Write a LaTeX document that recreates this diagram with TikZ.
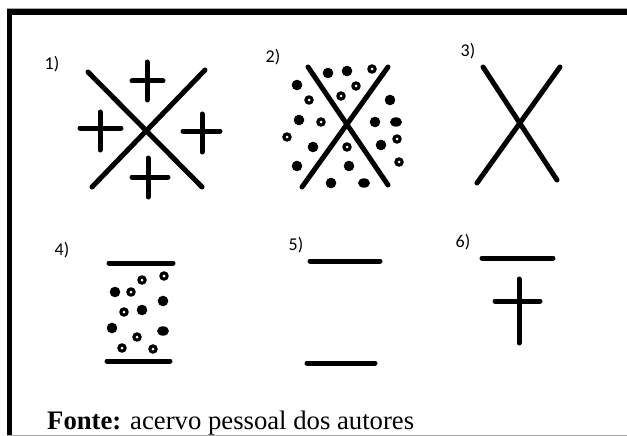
\documentclass[tikz,border=0pt]{standalone}
\usepackage{fontspec}
\setmainfont{Liberation Serif}
\newfontfamily\labfont{Carlito}
\begin{document}
\begin{tikzpicture}[x=1pt,y=-1pt,
  stroke/.style={line width=5pt,line cap=round},
  lab/.style={font=\labfont\fontsize{18}{20}\selectfont,inner sep=0pt,text=black},
  fulldot/.pic={\fill (0,0) circle (5.3pt);},
  ovaldot/.pic={\fill (0,0) ellipse (6pt and 4.7pt);},
  ringdot/.pic={\fill (0,0) circle (4.8pt); \fill[white] (0,0) circle (1.5pt);}]
\useasboundingbox (0,0) rectangle (627,436);
% frame
\draw[gray!70,line width=1pt] (7,8.5) -- (627,8.5);
\fill (7,9) rectangle (627,15);
\fill (7,9) rectangle (12,436);
\draw[gray!70,line width=1.2pt] (7,435.4) -- (627,435.4);
% labels
\node[lab] (l1) at (52,64) {1)};
\node[lab] (l2) at (273,57) {2)};
\node[lab] (l3) at (468,51) {3)};
\node[lab] (l4) at (62,250) {4)};
\node[lab] (l5) at (296,245) {5)};
\node[lab] (l6) at (463,242) {6)};
% panel 1
\draw[stroke] (88,72) -- (202,187);
\draw[stroke] (205,70) -- (92,187);
\draw[stroke] (132,81) -- (163,81) (147,62) -- (147,100);
\draw[stroke] (80,128) -- (121,128) (100,112) -- (100,150);
\draw[stroke] (183,131) -- (220,131) (202,114) -- (202,152);
\draw[stroke] (132,177) -- (168,177) (148,158) -- (148,197);
% panel 2
\draw[stroke] (308,67) -- (388,185);
\draw[stroke] (388,67) -- (302,187);
\pic at (328,73) {fulldot};
\pic at (347,71) {fulldot};
\pic at (372,69) {ringdot};
\pic at (297,85) {fulldot};
\pic at (356,86) {ringdot};
\pic at (309,100) {ringdot};
\pic at (341,96) {ringdot};
\pic at (390,100) {fulldot};
\pic at (299,120) {fulldot};
\pic at (321,122) {ringdot};
\pic at (375,122) {fulldot};
\pic at (396,122) {ovaldot};
\pic at (287,137) {ringdot};
\pic at (313,147) {fulldot};
\pic at (347,147) {ringdot};
\pic at (381,145) {fulldot};
\pic at (397,139) {ringdot};
\pic at (297,166) {fulldot};
\pic at (349,166) {fulldot};
\pic at (399,162) {ringdot};
\pic at (331,183) {fulldot};
\pic at (364,183) {ovaldot};
% panel 3
\draw[stroke] (483,67) -- (557,180);
\draw[stroke] (560,67) -- (477,183);
% panel 4
\draw[stroke] (109,263) -- (173,263);
\draw[stroke] (107,361) -- (170,361);
\pic at (142,280) {ringdot};
\pic at (164,276) {ringdot};
\pic at (115,292) {fulldot};
\pic at (131,292) {ringdot};
\pic at (163,301) {fulldot};
\pic at (124,312) {ringdot};
\pic at (142,310) {fulldot};
\pic at (112,328) {fulldot};
\pic at (137,337) {ringdot};
\pic at (163,331) {ovaldot};
\pic at (122,348) {ringdot};
\pic at (153,349) {ringdot};
% panel 5
\draw[stroke] (310,261) -- (380,261);
\draw[stroke] (307,363) -- (375,363);
% panel 6
\draw[stroke] (482,258) -- (553,258);
\draw[stroke] (495,301) -- (540,301) (519,279) -- (519,343);
% caption
\node[anchor=base west,inner sep=0pt,font=\fontsize{26.7}{30}\selectfont] (cap) at (47,429) {\textbf{Fonte:} acervo pessoal dos autores};
\end{tikzpicture}
\end{document}
